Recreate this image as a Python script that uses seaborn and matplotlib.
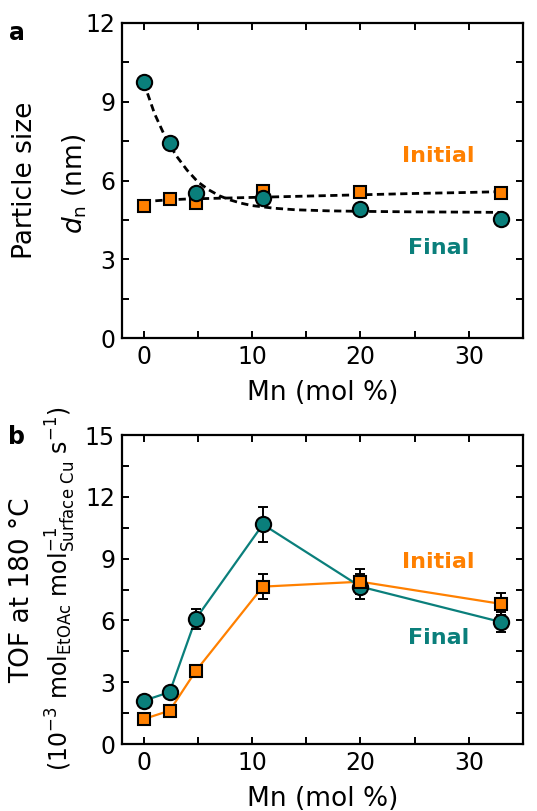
import numpy as np
import pandas as pd
import matplotlib
matplotlib.use("Agg")
import matplotlib.pyplot as plt
from matplotlib.ticker import MultipleLocator
import seaborn as sns

# Mn loading of the catalysts (mol %)
mn = [0, 2.4, 4.8, 11, 20, 33]

# (a) number-average particle size d_n (nm)
size_initial = [5.05, 5.29, 5.14, 5.62, 5.56, 5.51]
size_final = [9.74, 7.45, 5.54, 5.33, 4.91, 4.54]

# dashed trend curves through the particle sizes
trend_x = [0, 1, 2, 3, 4, 5, 6, 7, 8, 9, 10, 12, 14, 17, 20, 25, 30, 33]
trend_initial = [5.20, 5.23, 5.26, 5.28, 5.30, 5.31, 5.32, 5.33, 5.34, 5.35, 5.36,
                 5.38, 5.40, 5.43, 5.46, 5.51, 5.55, 5.58]
trend_final = [9.74, 8.55, 7.65, 6.95, 6.40, 5.95, 5.65, 5.42, 5.26, 5.14, 5.05,
               4.95, 4.89, 4.85, 4.83, 4.81, 4.80, 4.79]

# (b) turnover frequency at 180 °C (1e-3 mol EtOAc / mol surface Cu / s)
tof_initial = [1.21, 1.62, 3.54, 7.64, 7.88, 6.80]
tof_initial_err = [0.1, 0.1, 0.1, 0.6, 0.6, 0.55]
tof_final = [2.10, 2.52, 6.07, 10.66, 7.64, 5.92]
tof_final_err = [0.1, 0.1, 0.5, 0.85, 0.6, 0.5]

ORANGE = "#FF8000"
TEAL = "#0A7F7B"

sns.set_theme(style="ticks")
plt.rcParams["font.family"] = ["DejaVu Sans"]
plt.rcParams["mathtext.fontset"] = "dejavusans"
for key in ("text.color", "axes.labelcolor", "xtick.color", "ytick.color",
            "axes.edgecolor"):
    plt.rcParams[key] = "black"

fig = plt.figure(figsize=(5.37, 8.11), dpi=100)
ax1 = fig.add_axes([0.2272, 0.5829, 0.7467, 0.3888])
ax2 = fig.add_axes([0.2272, 0.0826, 0.7467, 0.3810])

size_df = pd.DataFrame({"mn": mn, "initial": size_initial, "final": size_final})
trend_df = pd.DataFrame({"x": trend_x, "initial": trend_initial, "final": trend_final})
tof_df = pd.DataFrame({"mn": mn, "initial": tof_initial, "final": tof_final})

# ---- panel a ----
for col in ["initial", "final"]:
    sns.lineplot(data=trend_df, x="x", y=col, ax=ax1, color="black", lw=2.0,
                 zorder=2, estimator=None).lines[-1].set_dashes([2.6, 1.6])
sns.lineplot(data=size_df, x="mn", y="initial", ax=ax1, lw=0, marker="s",
             markersize=9.2, markerfacecolor=ORANGE, markeredgecolor="black",
             markeredgewidth=1.5, zorder=3)
sns.lineplot(data=size_df, x="mn", y="final", ax=ax1, lw=0, marker="o",
             markersize=11, markerfacecolor=TEAL, markeredgecolor="black",
             markeredgewidth=1.5, zorder=4)

ax1.set_ylim(0, 12)
ax1.yaxis.set_major_locator(MultipleLocator(3))
ax1.yaxis.set_minor_locator(MultipleLocator(1.5))
ax1.text(27.2, 6.94, "Initial", color=ORANGE, fontsize=16, fontweight="bold",
         ha="center", va="center")
ax1.text(27.2, 3.44, "Final", color=TEAL, fontsize=16, fontweight="bold",
         ha="center", va="center")
ax1.text(-0.242, 0.5, "Particle size", transform=ax1.transAxes, rotation=90,
         fontsize=19, ha="center", va="center")
ax1.text(-0.118, 0.49, r"$d_\mathrm{n}$ (nm)", transform=ax1.transAxes,
         rotation=90, fontsize=19, ha="center", va="center")

# ---- panel b ----
sns.lineplot(data=tof_df, x="mn", y="initial", ax=ax2, color=ORANGE, lw=1.6, zorder=2)
sns.lineplot(data=tof_df, x="mn", y="final", ax=ax2, color=TEAL, lw=1.6, zorder=2)
ax2.errorbar(mn, tof_initial, yerr=tof_initial_err, fmt="none", ecolor="black",
             elinewidth=1.4, capsize=3.3, capthick=1.4, zorder=3)
ax2.errorbar(mn, tof_final, yerr=tof_final_err, fmt="none", ecolor="black",
             elinewidth=1.4, capsize=3.3, capthick=1.4, zorder=3)
sns.lineplot(data=tof_df, x="mn", y="final", ax=ax2, lw=0, marker="o",
             markersize=11, markerfacecolor=TEAL, markeredgecolor="black",
             markeredgewidth=1.5, zorder=4)
sns.lineplot(data=tof_df, x="mn", y="initial", ax=ax2, lw=0, marker="s",
             markersize=9.2, markerfacecolor=ORANGE, markeredgecolor="black",
             markeredgewidth=1.5, zorder=5)

ax2.set_ylim(0, 15)
ax2.yaxis.set_major_locator(MultipleLocator(3))
ax2.yaxis.set_minor_locator(MultipleLocator(1.5))
ax2.text(27.2, 8.82, "Initial", color=ORANGE, fontsize=16, fontweight="bold",
         ha="center", va="center")
ax2.text(27.2, 5.13, "Final", color=TEAL, fontsize=16, fontweight="bold",
         ha="center", va="center")
ax2.text(-0.249, 0.498, "TOF at 180 °C", transform=ax2.transAxes, rotation=90,
         fontsize=19, ha="center", va="center")
ax2.text(-0.152, 0.503,
         r"(10$^{-3}$ mol$_{\mathrm{EtOAc}}$ mol$^{-1}_{\mathrm{Surface\ Cu}}$ s$^{-1}$)",
         transform=ax2.transAxes, rotation=90, fontsize=17, ha="center", va="center")

for ax in (ax1, ax2):
    ax.set_xlim(-2, 35)
    ax.xaxis.set_major_locator(MultipleLocator(10))
    ax.xaxis.set_minor_locator(MultipleLocator(5))
    ax.set_xlabel("Mn (mol %)", fontsize=19, labelpad=8)
    ax.set_ylabel("")
    ax.tick_params(which="both", direction="in", top=True, right=True,
                   labelsize=17, width=1.4, pad=5, length=5)
    for s in ax.spines.values():
        s.set_linewidth(1.6)
        s.set_color("black")

fig.text(17 / 537, 1 - 33 / 811, "a", fontsize=17, fontweight="bold",
         ha="center", va="center")
fig.text(17 / 537, 1 - 437 / 811, "b", fontsize=17, fontweight="bold",
         ha="center", va="center")

fig.savefig("out.png", dpi=100)
